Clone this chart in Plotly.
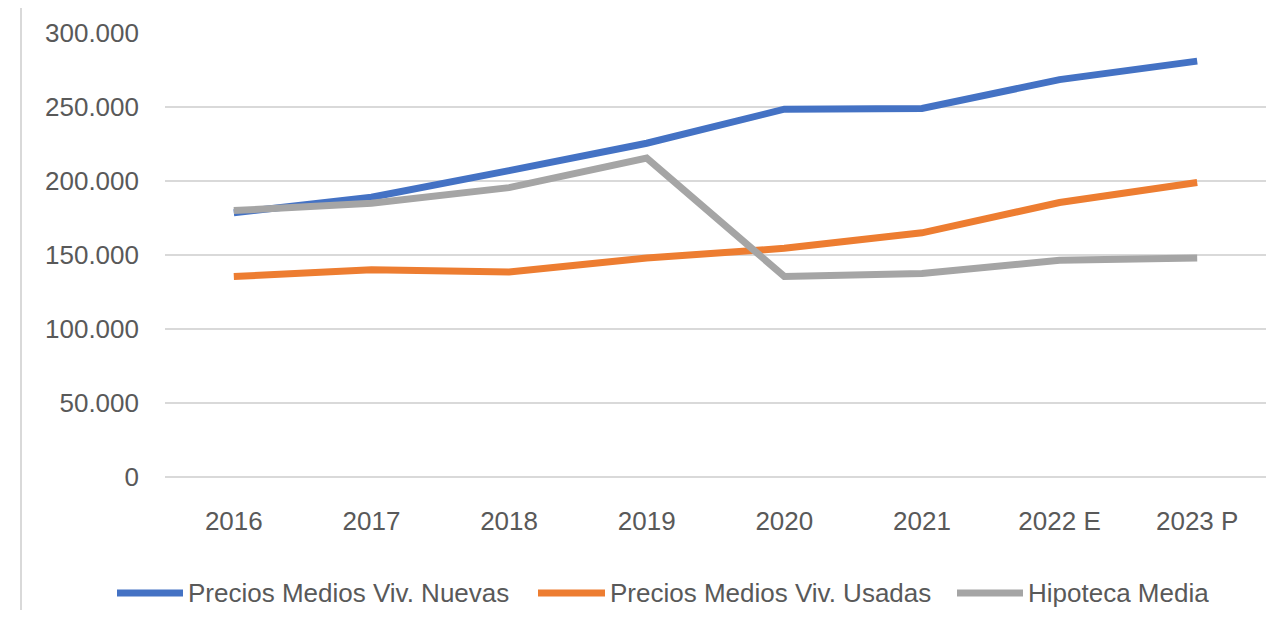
import plotly.graph_objects as go

categories = ["2016", "2017", "2018", "2019", "2020", "2021", "2022 E", "2023 P"]
nuevas = [178500, 189000, 207000, 225500, 248500, 249000, 268500, 281000]
usadas = [135500, 140000, 138500, 148000, 154500, 165000, 185500, 199000]
hipoteca = [180000, 185000, 195500, 215500, 135500, 137500, 146500, 148000]
series_names = ["Precios Medios Viv. Nuevas", "Precios Medios Viv. Usadas", "Hipoteca Media"]
series_colors = ["#4472C4", "#ED7D31", "#A5A5A5"]
y_ticks = [0, 50000, 100000, 150000, 200000, 250000, 300000]

FONT = "Liberation Sans, Arial, sans-serif"
TXT = "#595959"
GRID = "#D9D9D9"

OFF = 8  # page body margin in the browser
W, H = 1279 - 2 * OFF, 618 - 2 * OFF
# target plot area in screen pixels: left 165, right 1266, top 33, bottom 477
ml = 165 - OFF
mr = (W + OFF) - 1266
mt = 33 - OFF
mb = (H + OFF) - 477
pw, ph = W - ml - mr, H - mt - mb


def px_x(px):
    return (px - OFF - ml) / pw


def px_y(py):
    return (H - mb - (py - OFF)) / ph


fig = go.Figure()
for name, vals, col in zip(series_names, [nuevas, usadas, hipoteca], series_colors):
    fig.add_trace(go.Scatter(
        x=categories, y=vals, name=name, mode="lines",
        line=dict(color=col, width=7),
    ))

legend_line_px = [(117, 183), (538, 605), (957, 1023)]
legend_y_px = 593
shapes = [dict(
    type="line", xref="paper", yref="paper",
    x0=px_x(21), x1=px_x(21),
    y0=px_y(0), y1=px_y(640),
    line=dict(color=GRID, width=2),
)]
annotations = []
for (x0, x1), name, col in zip(legend_line_px, series_names, series_colors):
    shapes.append(dict(
        type="line", xref="paper", yref="paper",
        x0=px_x(x0), x1=px_x(x1), y0=px_y(legend_y_px), y1=px_y(legend_y_px),
        line=dict(color=col, width=7),
    ))
    annotations.append(dict(
        text=name, xref="paper", yref="paper",
        x=px_x(x1 + 3), y=px_y(legend_y_px), xanchor="left", yanchor="middle",
        showarrow=False, font=dict(family=FONT, size=26, color=TXT),
    ))

fig.update_layout(
    width=W, height=H,
    margin=dict(l=ml, r=mr, t=mt, b=mb, autoexpand=False),
    paper_bgcolor="white", plot_bgcolor="white",
    separators=",.",
    font=dict(family=FONT, size=26, color=TXT),
    showlegend=False,
    xaxis=dict(
        type="category", range=[-0.5, 7.5], showgrid=False,
        showline=False, ticks="", zeroline=False,
        ticklabelstandoff=26, automargin=False,
        tickfont=dict(family=FONT, size=26, color=TXT),
        fixedrange=True,
    ),
    yaxis=dict(
        range=[0, 300000], tickvals=y_ticks, tickformat=",d",
        showgrid=True, gridcolor=GRID, gridwidth=2,
        zeroline=True, zerolinecolor=GRID, zerolinewidth=2,
        showline=False, ticks="",
        ticklabelstandoff=25, automargin=False,
        tickfont=dict(family=FONT, size=26, color=TXT),
        fixedrange=True,
    ),
    shapes=shapes,
    annotations=annotations,
)

fig.write_html("out.html")
